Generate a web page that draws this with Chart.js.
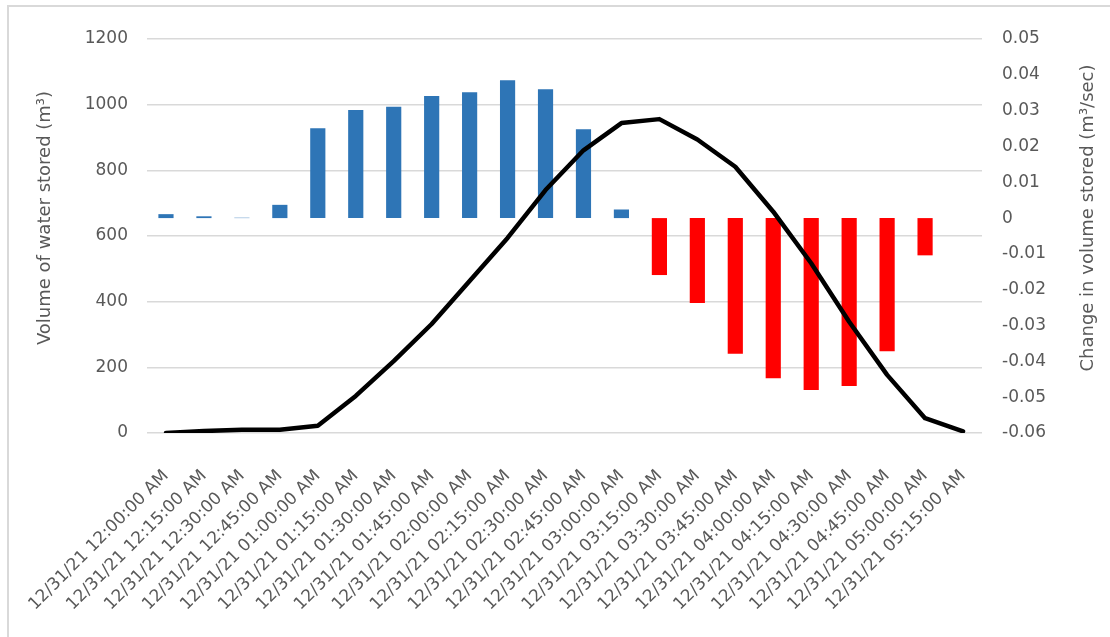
<!DOCTYPE html>
<html>
<head>
<meta charset="utf-8">
<title>Water stored</title>
<script src="https://cdn.jsdelivr.net/npm/chart.js@4"></script>
<style>
    body { margin: 0; background: #ffffff; }
</style>
</head>
<body>
<canvas id="storageChart" width="1110" height="637"></canvas>
<script>
// Time stamps along the x axis
const timeLabels = [
    "12/31/21 12:00:00 AM", "12/31/21 12:15:00 AM", "12/31/21 12:30:00 AM", "12/31/21 12:45:00 AM",
    "12/31/21 01:00:00 AM", "12/31/21 01:15:00 AM", "12/31/21 01:30:00 AM", "12/31/21 01:45:00 AM",
    "12/31/21 02:00:00 AM", "12/31/21 02:15:00 AM", "12/31/21 02:30:00 AM", "12/31/21 02:45:00 AM",
    "12/31/21 03:00:00 AM", "12/31/21 03:15:00 AM", "12/31/21 03:30:00 AM", "12/31/21 03:45:00 AM",
    "12/31/21 04:00:00 AM", "12/31/21 04:15:00 AM", "12/31/21 04:30:00 AM", "12/31/21 04:45:00 AM",
    "12/31/21 05:00:00 AM", "12/31/21 05:15:00 AM"
];

// Volume of water stored (m3), left axis
const volumeStored = [0, 6, 10, 10, 22, 113, 219, 332, 463, 594, 740, 861,
    944, 956, 894, 811, 674, 517, 339, 177, 45, 5];

// Change in volume stored (m3/sec), right axis
const volumeChange = [0.0011, 0.0005, 0.0001, 0.0037, 0.0251, 0.0302, 0.0311, 0.0341,
    0.0351, 0.0385, 0.0360, 0.0248, 0.0024, -0.0159, -0.0237, -0.0379, -0.0447,
    -0.0480, -0.0469, -0.0372, -0.0104, null];

const leftTitle = "Volume of water stored (m\u00B3)";
const rightTitle = "Change in volume stored (m\u00B3/sec)";

const grey = "#595959";
// blue when filling, red when emptying
const barColors = volumeChange.map(v => v < 0 ? "#FF0000" : "#2E75B6");

// draws the frame and both axis titles (reading bottom to top)
const frameAndTitles = {
    id: "frameAndTitles",
    afterDraw(chart) {
        const ctx = chart.ctx;
        const area = chart.chartArea;
        const midY = (area.top + area.bottom) / 2 - 18;
        ctx.save();
        ctx.strokeStyle = "#d9d9d9";
        ctx.lineWidth = 2;
        ctx.strokeRect(8, 6, 1200, 700);
        ctx.fillStyle = grey;
        ctx.font = '18px "DejaVu Sans"';
        ctx.textAlign = "center";
        ctx.textBaseline = "middle";
        [[chart.scales.y.left + 35, leftTitle], [chart.scales.y1.right - 15, rightTitle]].forEach(([x, text]) => {
            ctx.save();
            ctx.translate(x, midY);
            ctx.rotate(-Math.PI / 2);
            ctx.fillText(text, 0, 0);
            ctx.restore();
        });
        ctx.restore();
    }
};

const ctx = document.getElementById("storageChart").getContext("2d");
new Chart(ctx, {
    type: "bar",
    data: {
        labels: timeLabels,
        datasets: [{
            type: "line",
            label: "Volume",
            data: volumeStored,
            yAxisID: "y",
            borderColor: "#000000",
            borderWidth: 4.5,
            borderJoinStyle: "round",
            borderCapStyle: "round",
            pointRadius: 0,
            tension: 0,
            order: 0
        }, {
            label: "Change",
            data: volumeChange,
            yAxisID: "y1",
            backgroundColor: barColors,
            categoryPercentage: 0.8,
            barPercentage: 0.5,
            order: 1
        }]
    },
    options: {
        responsive: false,
        animation: false,
        layout: { padding: { left: 10, right: 7, top: 39, bottom: 0 } },
        plugins: {
            legend: { display: false },
            tooltip: { enabled: false }
        },
        scales: {
            x: {
                grid: { display: false },
                border: { display: false },
                ticks: {
                    autoSkip: false,
                    minRotation: 45,
                    maxRotation: 45,
                    padding: 25,
                    color: grey,
                    font: { family: "DejaVu Sans", size: 17 }
                },
                afterFit: s => { s.height = 204; }
            },
            y: {
                position: "left",
                min: 0,
                max: 1200,
                ticks: {
                    stepSize: 200,
                    padding: 19,
                    color: grey,
                    font: { family: "DejaVu Sans", size: 17 },
                    // plain numbers, no thousands separator
                    callback: value => String(value)
                },
                grid: { color: "#d9d9d9", lineWidth: 1.4, drawTicks: false },
                border: { display: false },
                afterFit: s => { s.width = 137; }
            },
            y1: {
                position: "right",
                min: -0.06,
                max: 0.05,
                ticks: {
                    stepSize: 0.01,
                    padding: 20,
                    color: grey,
                    font: { family: "DejaVu Sans", size: 17 }
                },
                grid: { display: false, drawTicks: false },
                border: { display: false },
                afterFit: s => { s.width = 121; }
            }
        }
    },
    plugins: [frameAndTitles]
});
</script>
</body>
</html>
